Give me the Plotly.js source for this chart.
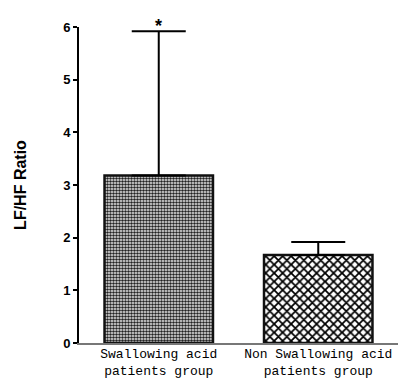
<!DOCTYPE html>
<html><head><meta charset="utf-8">
<script src="https://cdn.plot.ly/plotly-3.0.1.min.js"></script>
<style>html,body{margin:0;padding:0;background:#fff}</style>
</head><body><div id="chart" style="width:408px;height:381px"></div>
<script>
const categories = ["Swallowing acid<br>patients group", "Non Swallowing acid<br>patients group"];
const means = [3.18, 1.67];
const errUpper = [2.74, 0.25];
const yTicks = [0, 1, 2, 3, 4, 5, 6];

const trace1 = {
  type: "bar", x: [categories[0]], y: [means[0]],
  error_y: {type: "data", symmetric: false, array: [errUpper[0]], arrayminus: [0], color: "#000", thickness: 2, width: 27},
  marker: {color: "#fff", line: {color: "#111", width: 2.5},
    pattern: {shape: ".", size: 3, solidity: 0.55, fgcolor: "#222", bgcolor: "#eee"}},
  width: 0.68
};
const trace2 = {
  type: "bar", x: [categories[1]], y: [means[1]],
  error_y: {type: "data", symmetric: false, array: [errUpper[1]], arrayminus: [0], color: "#000", thickness: 2, width: 27},
  marker: {color: "#fff", line: {color: "#111", width: 2.5},
    pattern: {shape: "x", size: 6, solidity: 0.5, fgcolor: "#000", bgcolor: "#fff"}},
  width: 0.68
};

const layout = {
  width: 408, height: 381,
  margin: {l: 79, r: 10, t: 27, b: 38},
  showlegend: false,
  paper_bgcolor: "#fff", plot_bgcolor: "#fff",
  barmode: "overlay",
  xaxis: {
    type: "category", range: [-0.5, 1.5],
    showline: true, linecolor: "#777", linewidth: 2,
    ticks: "", showgrid: false, zeroline: false,
    ticklabelstandoff: -3,
    tickfont: {family: "Liberation Mono", size: 13, color: "#000"}
  },
  yaxis: {
    range: [0, 6], tickvals: yTicks, ticktext: yTicks.map(String),
    showline: true, linecolor: "#000", linewidth: 2,
    ticks: "outside", ticklen: 4, tickwidth: 1.5, tickcolor: "#000",
    showgrid: false, zeroline: false,
    tickfont: {family: "Liberation Sans Narrow, Liberation Sans", size: 13, color: "#000", weight: "bold"},
    title: {text: "LF/HF Ratio", standoff: 33, font: {family: "Liberation Sans", size: 16, color: "#000", weight: "bold"}}
  },
  annotations: [{
    x: categories[0], y: 1.04, xref: "x", yref: "paper", text: "*", showarrow: false,
    font: {family: "Liberation Sans", size: 18, color: "#000", weight: "bold"}
  }]
};
Plotly.newPlot("chart", [trace1, trace2], layout, {displayModeBar: false});
</script></body></html>
